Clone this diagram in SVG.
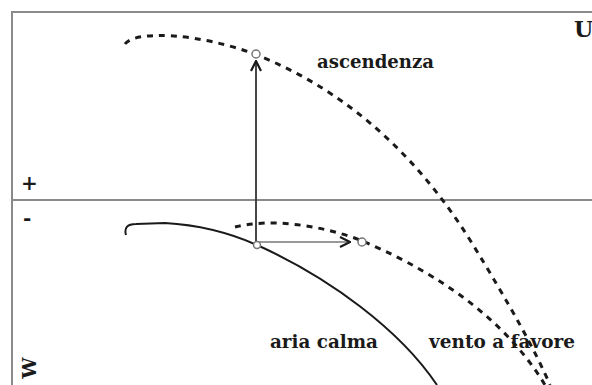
<svg xmlns="http://www.w3.org/2000/svg" width="592" height="385" viewBox="0 0 592 385">
<style>
.frame{stroke:#8a8a8a;stroke-width:2;fill:none}
.dash{stroke:#1a1a1a;stroke-width:3;fill:none;stroke-dasharray:6 6}
.solid{stroke:#1a1a1a;stroke-width:2;fill:none}
.lbl{font-family:"DejaVu Serif","Liberation Serif",serif;font-weight:bold;font-size:19px;fill:#1a1a1a}
.pt{fill:#fff;stroke:#777;stroke-width:1.5}
</style>
<defs>
<marker id="v" viewBox="0 0 12 12" refX="11" refY="6" markerWidth="12" markerHeight="12" markerUnits="userSpaceOnUse" orient="auto">
<path d="M1,1 L11,6 L1,11" fill="none" stroke="#1a1a1a" stroke-width="2.2"/>
</marker>
</defs>
<rect width="592" height="385" fill="#fff"/>
<g id="axes">
<path class="frame" d="M12,385 L12,12 L592,12"/>
<path class="frame" d="M12,200 L592,200"/>
</g>
<g id="connectors">
<path id="curve-ascendenza" class="dash" d="M125,44 C135,30 200,33 257,55 C350,92 420,160 470,240 C510,305 535,350 550,385"/>
<path id="curve-favore" class="dash" d="M235,227 C270,218 320,225 360,240 C420,265 500,310 545,385"/>
<path id="curve-calma" class="solid" d="M126,235 C124,228 127,224 136,224 L165,223 C200,225 230,233 257,245 C330,278 400,330 437,385"/>
<line id="arrow-up" x1="256" y1="245" x2="256" y2="61" stroke="#333" stroke-width="1.8" marker-end="url(#v)"/>
<line id="arrow-right" x1="258" y1="242" x2="350" y2="242" stroke="#999" stroke-width="2" marker-end="url(#v)"/>
</g>
<g id="points">
<circle class="pt" cx="256" cy="54" r="4"/>
<circle class="pt" cx="257" cy="245" r="3.5"/>
<circle class="pt" cx="362" cy="242" r="4"/>
</g>
<g id="labels">
<text class="lbl" x="574" y="37" style="font-size:22px">U</text>
<text class="lbl" x="317" y="68" textLength="117" lengthAdjust="spacingAndGlyphs">ascendenza</text>
<text class="lbl" x="270" y="348" textLength="108" lengthAdjust="spacingAndGlyphs">aria calma</text>
<text class="lbl" x="429" y="348" textLength="146" lengthAdjust="spacingAndGlyphs">vento a favore</text>
<text class="lbl" x="21" y="190" style="font-size:20px">+</text>
<text class="lbl" x="23" y="225" style="font-size:20px">-</text>
<text class="lbl" transform="translate(36,368) rotate(-90)" text-anchor="middle" style="font-size:19px">W</text>
</g>
</svg>
